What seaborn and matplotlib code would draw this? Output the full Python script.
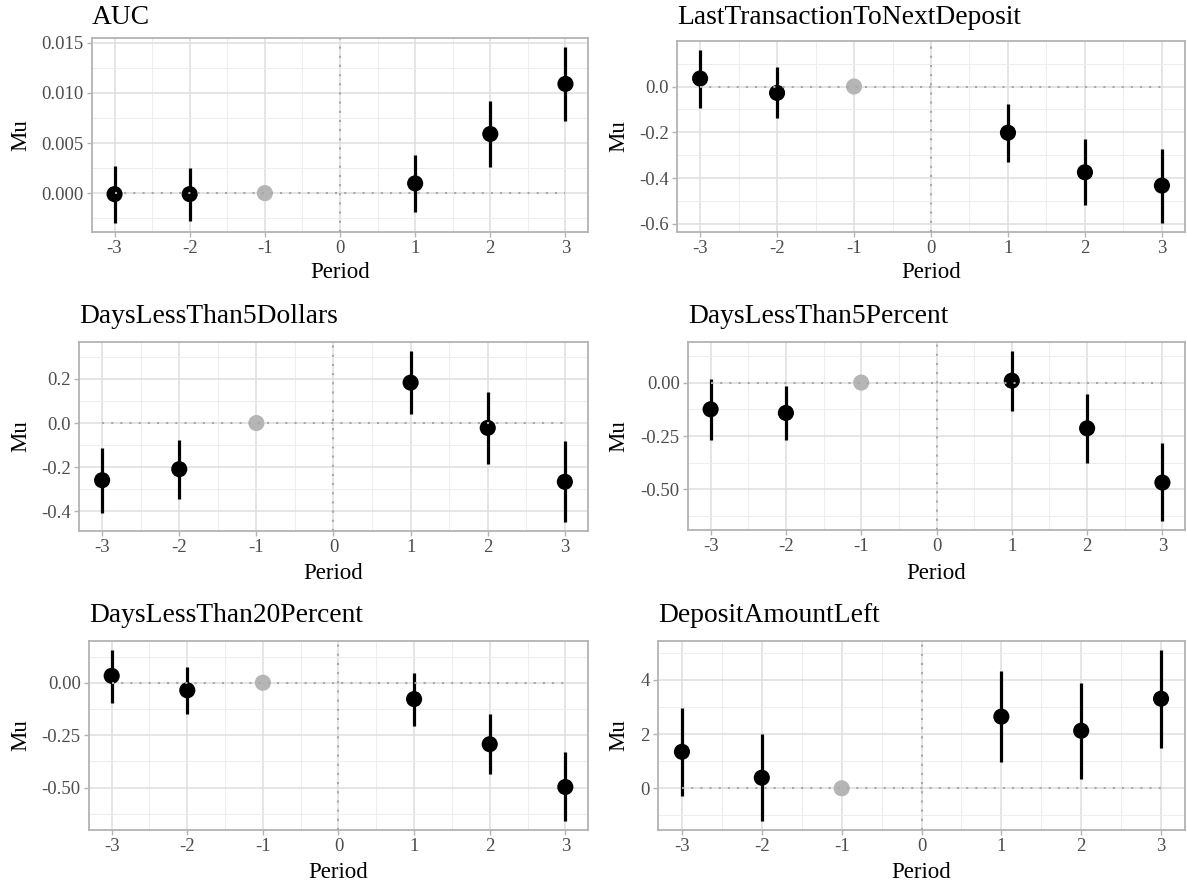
import numpy as np
import pandas as pd
import matplotlib
matplotlib.use("Agg")
import matplotlib.pyplot as plt
import seaborn as sns
from matplotlib.ticker import MultipleLocator

# ---------------- data ----------------
periods = [-3, -2, -1, 1, 2, 3]
x_ticks = [-3, -2, -1, 0, 1, 2, 3]
ref_period = -1

titles = ["AUC", "LastTransactionToNextDeposit", "DaysLessThan5Dollars",
          "DaysLessThan5Percent", "DaysLessThan20Percent", "DepositAmountLeft"]

auc_mu = [-0.0001, -0.0001, 0.0, 0.00097, 0.0059, 0.0109]
auc_lo = [-0.0030, -0.0028, np.nan, -0.0019, 0.0026, 0.0072]
auc_hi = [0.0027, 0.0025, np.nan, 0.0038, 0.0092, 0.0146]

ltnd_mu = [0.035, -0.028, 0.0, -0.202, -0.375, -0.433]
ltnd_lo = [-0.092, -0.136, np.nan, -0.331, -0.516, -0.598]
ltnd_hi = [0.161, 0.085, np.nan, -0.076, -0.231, -0.271]

d5d_mu = [-0.259, -0.209, 0.0, 0.183, -0.022, -0.266]
d5d_lo = [-0.407, -0.346, np.nan, 0.039, -0.184, -0.450]
d5d_hi = [-0.111, -0.076, np.nan, 0.328, 0.139, -0.081]

d5p_mu = [-0.125, -0.142, 0.0, 0.009, -0.214, -0.468]
d5p_lo = [-0.270, -0.270, np.nan, -0.131, -0.375, -0.650]
d5p_hi = [0.018, -0.014, np.nan, 0.150, -0.054, -0.285]

d20p_mu = [0.033, -0.036, 0.0, -0.078, -0.293, -0.497]
d20p_lo = [-0.095, -0.149, np.nan, -0.204, -0.437, -0.661]
d20p_hi = [0.158, 0.074, np.nan, 0.047, -0.149, -0.329]

dal_mu = [1.345, 0.39, 0.0, 2.64, 2.12, 3.30]
dal_lo = [-0.27, -1.22, np.nan, 0.98, 0.35, 1.48]
dal_hi = [2.96, 2.01, np.nan, 4.31, 3.87, 5.11]

auc_yticks = [0.000, 0.005, 0.010, 0.015]
auc_ylabels = ["0.000", "0.005", "0.010", "0.015"]
ltnd_yticks = [-0.6, -0.4, -0.2, 0.0]
ltnd_ylabels = ["-0.6", "-0.4", "-0.2", "0.0"]
d5d_yticks = [-0.4, -0.2, 0.0, 0.2]
d5d_ylabels = ["-0.4", "-0.2", "0.0", "0.2"]
d5p_yticks = [-0.50, -0.25, 0.00]
d5p_ylabels = ["-0.50", "-0.25", "0.00"]
d20p_yticks = [-0.50, -0.25, 0.00]
d20p_ylabels = ["-0.50", "-0.25", "0.00"]
dal_yticks = [0, 2, 4]
dal_ylabels = ["0", "2", "4"]

series = [
    (auc_mu, auc_lo, auc_hi, auc_yticks, auc_ylabels),
    (ltnd_mu, ltnd_lo, ltnd_hi, ltnd_yticks, ltnd_ylabels),
    (d5d_mu, d5d_lo, d5d_hi, d5d_yticks, d5d_ylabels),
    (d5p_mu, d5p_lo, d5p_hi, d5p_yticks, d5p_ylabels),
    (d20p_mu, d20p_lo, d20p_hi, d20p_yticks, d20p_ylabels),
    (dal_mu, dal_lo, dal_hi, dal_yticks, dal_ylabels),
]

# ---------------- layout (pixels: left, top, right, bottom) ----------------
W, H = 1187, 888
boxes = [
    (92, 38, 588, 232),
    (677, 41, 1185, 232),
    (79, 342, 588, 531),
    (688, 342, 1185, 530),
    (89, 641, 588, 830),
    (658, 641, 1185, 830),
]
title_base = [24, 24, 323, 323, 622, 622]
mu_x = [21, 619, 21, 619, 21, 619]
period_y = [273, 273, 573, 573, 872, 872]

sns.set_theme(style="white")
plt.rcParams["font.family"] = ["Liberation Serif", "DejaVu Serif"]
plt.rcParams["axes.unicode_minus"] = False

fig = plt.figure(figsize=(W / 100, H / 100), dpi=100)
fig.patch.set_facecolor("white")

grid_major = "#DEDEDE"
grid_minor = "#EDEDED"
border = "#B3B3B3"
dot_col = "#A8A8A8"

for i, (mu, lo, hi, yt, yl) in enumerate(series):
    l, t, r, b = boxes[i]
    ax = fig.add_axes([l / W, 1 - b / H, (r - l) / W, (b - t) / H])
    df = pd.DataFrame({"Period": periods, "Mu": mu, "lo": lo, "hi": hi})
    df["ref"] = df["Period"] == ref_period

    ax.set_axisbelow(True)
    ax.axvline(0, color=dot_col, lw=1.5, ls=(0, (1, 3.4)), zorder=4)
    d = df.dropna()
    ax.vlines(d["Period"], d["lo"], d["hi"], color="black", lw=2.3, zorder=2)
    sns.scatterplot(data=df, x="Period", y="Mu", hue="ref",
                    palette={False: "black", True: "#B5B5B5"},
                    s=135, edgecolor="none", legend=False, ax=ax, zorder=3)
    ax.hlines(0, min(periods), max(periods), color=dot_col, lw=1.5,
              ls=(0, (1, 3.4)), zorder=4)

    ax.set_xlim(-3.3, 3.3)
    ax.margins(y=0.05)
    ax.set_xticks(x_ticks)
    ax.set_xticklabels([str(v) for v in x_ticks])
    ax.xaxis.set_minor_locator(MultipleLocator(0.5))
    ax.set_yticks(yt)
    ax.set_yticklabels(yl)
    step = yt[1] - yt[0]
    ax.yaxis.set_minor_locator(MultipleLocator(step / 2))

    ax.grid(True, which="major", color=grid_major, lw=1.1)
    ax.grid(True, which="minor", color=grid_minor, lw=0.7)
    for s in ax.spines.values():
        s.set_color(border)
        s.set_linewidth(1.3)
    ax.tick_params(axis="both", which="major", length=3.5, width=1.0,
                   color=border, labelsize=13.5, labelcolor="#4D4D4D", pad=2.5,
                   bottom=True, left=True)
    ax.tick_params(axis="both", which="minor", length=0)
    ax.set_xlabel("")
    ax.set_ylabel("")

    fig.text(l / W, 1 - title_base[i] / H, titles[i], ha="left",
             va="baseline", fontsize=19.8, color="black")
    fig.text(mu_x[i] / W, 1 - (t + b) / 2 / H, "Mu", rotation=90,
             ha="center", va="center", fontsize=16.5, color="black")
    fig.text((l + r) / 2 / W, 1 - period_y[i] / H, "Period", ha="center",
             va="center", fontsize=16.5, color="black")

fig.savefig("out.png", dpi=100, facecolor="white")
